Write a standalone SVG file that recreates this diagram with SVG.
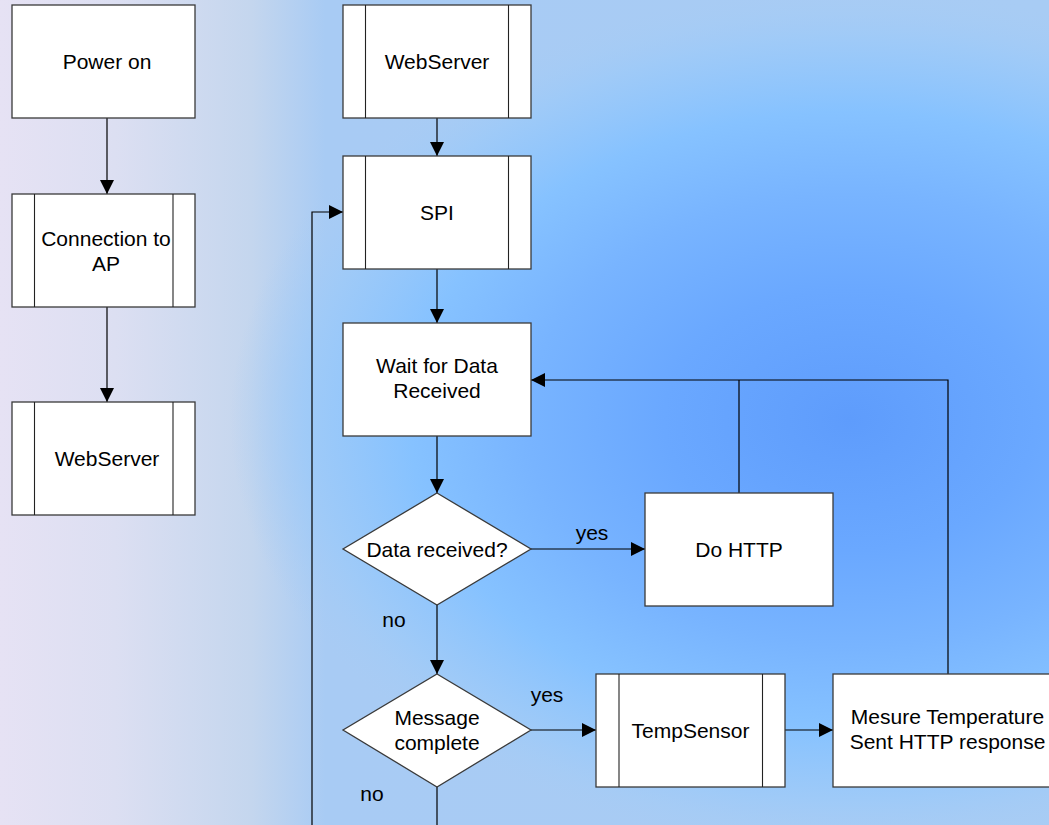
<svg xmlns="http://www.w3.org/2000/svg" width="1049" height="825" viewBox="0 0 1049 825">
<defs>
<linearGradient id="base" gradientUnits="userSpaceOnUse" x1="0" y1="0" x2="1049" y2="0">
<stop offset="0" stop-color="#e6e2f4"/>
<stop offset="0.11" stop-color="#dcdff2"/>
<stop offset="0.24" stop-color="#c4d6ee"/>
<stop offset="0.31" stop-color="#a8cbf4"/>
<stop offset="1" stop-color="#a8ccf4"/>
</linearGradient>
<radialGradient id="spot" gradientUnits="userSpaceOnUse" cx="850" cy="420" r="620" gradientTransform="translate(850 420) scale(1 0.7) translate(-850 -420)">
<stop offset="0" stop-color="#5e9cfc" stop-opacity="1"/>
<stop offset="0.3" stop-color="#6aa8ff" stop-opacity="1"/>
<stop offset="0.52" stop-color="#78b4ff" stop-opacity="1"/>
<stop offset="0.71" stop-color="#86c2ff" stop-opacity="1"/>
<stop offset="0.88" stop-color="#9ecaf8" stop-opacity="0.9"/>
<stop offset="1" stop-color="#a8ccf4" stop-opacity="0"/>
</radialGradient>
<marker id="arr" markerUnits="userSpaceOnUse" markerWidth="14" markerHeight="14" refX="14" refY="7" orient="auto" viewBox="0 0 14 14">
<path d="M0,0 L14,7 L0,14 Z" fill="#000"/>
</marker>
</defs>
<style>
.box{fill:#fff;stroke:#3a3a3a;stroke-width:1.3}
.inner{stroke:#222;stroke-width:1.1;fill:none}
.t{font-family:"Liberation Sans",Arial,sans-serif;font-size:21px;fill:#000;text-anchor:middle}
.c{stroke:#000;stroke-width:1.2;fill:none}
.ca{stroke:#000;stroke-width:1.2;fill:none;marker-end:url(#arr)}
</style>
<rect x="0" y="0" width="1049" height="825" fill="url(#base)"/>
<rect x="0" y="0" width="1049" height="825" fill="url(#spot)"/>

<g id="connectors">
<line class="ca" x1="107" y1="118" x2="107" y2="194"/>
<line class="ca" x1="107" y1="307" x2="107" y2="402"/>
<line class="ca" x1="437" y1="118" x2="437" y2="156"/>
<line class="ca" x1="437" y1="269" x2="437" y2="323"/>
<line class="ca" x1="437" y1="436" x2="437" y2="493"/>
<line class="ca" x1="531" y1="549" x2="645" y2="549"/>
<line class="ca" x1="437" y1="605" x2="437" y2="674"/>
<line class="ca" x1="531" y1="730" x2="596" y2="730"/>
<line class="ca" x1="785" y1="730" x2="833" y2="730"/>
<line class="c" x1="739" y1="493" x2="739" y2="380"/>
<polyline class="ca" points="948,674 948,380 531,380"/>
<line class="c" x1="437" y1="787" x2="437" y2="830"/>
<polyline class="ca" points="312,830 312,212 343,212"/>
<text class="t" x="592" y="540">yes</text>
<text class="t" x="394" y="627">no</text>
<text class="t" x="547" y="702">yes</text>
<text class="t" x="372" y="801">no</text>
</g>

<g id="power-on">
<rect class="box" x="12" y="5" width="183" height="113"/>
<text class="t" x="107" y="68.5">Power on</text>
</g>

<g id="connection-ap">
<rect class="box" x="12" y="194" width="183" height="113"/>
<line class="inner" x1="34.5" y1="194" x2="34.5" y2="307"/>
<line class="inner" x1="173" y1="194" x2="173" y2="307"/>
<text class="t" x="106" y="245.5">Connection to</text>
<text class="t" x="106" y="270.5">AP</text>
</g>

<g id="webserver-left">
<rect class="box" x="12" y="402" width="183" height="113"/>
<line class="inner" x1="34.5" y1="402" x2="34.5" y2="515"/>
<line class="inner" x1="173" y1="402" x2="173" y2="515"/>
<text class="t" x="107" y="465.5">WebServer</text>
</g>

<g id="webserver-top">
<rect class="box" x="343" y="5" width="188" height="113"/>
<line class="inner" x1="365.5" y1="5" x2="365.5" y2="118"/>
<line class="inner" x1="508.5" y1="5" x2="508.5" y2="118"/>
<text class="t" x="437" y="68.5">WebServer</text>
</g>

<g id="spi">
<rect class="box" x="343" y="156" width="188" height="113"/>
<line class="inner" x1="365.5" y1="156" x2="365.5" y2="269"/>
<line class="inner" x1="508.5" y1="156" x2="508.5" y2="269"/>
<text class="t" x="437" y="219.5">SPI</text>
</g>

<g id="wait-data">
<rect class="box" x="343" y="323" width="188" height="113"/>
<text class="t" x="437" y="373">Wait for Data</text>
<text class="t" x="437" y="398">Received</text>
</g>

<g id="data-received">
<polygon class="box" points="437,493 531,549 437,605 343,549"/>
<text class="t" x="437" y="556.5">Data received?</text>
</g>

<g id="do-http">
<rect class="box" x="645" y="493" width="188" height="113"/>
<text class="t" x="739" y="556.5">Do HTTP</text>
</g>

<g id="message-complete">
<polygon class="box" points="437,674 531,730 437,787 343,730"/>
<text class="t" x="437" y="724.5">Message</text>
<text class="t" x="437" y="749.5">complete</text>
</g>

<g id="tempsensor">
<rect class="box" x="596" y="674" width="189" height="113"/>
<line class="inner" x1="619" y1="674" x2="619" y2="787"/>
<line class="inner" x1="762.5" y1="674" x2="762.5" y2="787"/>
<text class="t" x="690.5" y="737.5">TempSensor</text>
</g>

<g id="mesure">
<rect class="box" x="833" y="674" width="230" height="113"/>
<text class="t" x="947.5" y="724">Mesure Temperature</text>
<text class="t" x="947.5" y="749">Sent HTTP response</text>
</g>
</svg>
